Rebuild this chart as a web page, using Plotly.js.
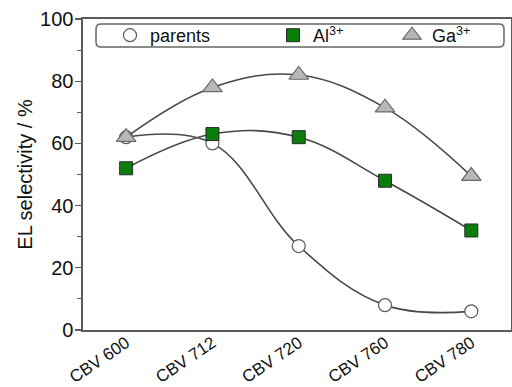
<!DOCTYPE html>
<html>
<head>
<meta charset="utf-8">
<script src="https://cdn.plot.ly/plotly-3.0.1.min.js"></script>
<style>html,body{margin:0;padding:0;background:#fff;}#chart{width:512px;height:387px;}</style>
</head>
<body>
<div id="chart"></div>
<script>
const categories = ["CBV 600", "CBV 712", "CBV 720", "CBV 760", "CBV 780"];
const parents = [62, 60, 27, 8, 6];
const al3 = [52, 63, 62, 48, 32];
const ga3 = [62, 78, 82, 71.5, 49.5];
const yTicks = [0, 20, 40, 60, 80, 100];

const idx = categories.map((c, i) => i);
const lineStyle = {color: '#484848', width: 1.6, shape: 'spline', smoothing: 1.1};

const series = [
  {y: parents, name: 'parents', legend: 'legend',
   marker: {symbol: 'circle', size: 13, color: '#ffffff', line: {color: '#5a5a5a', width: 1.2}}},
  {y: al3, name: 'Al<sup>3+</sup>', legend: 'legend2',
   marker: {symbol: 'square', size: 13, color: '#0b7d0b', line: {color: '#2a2a2a', width: 1}}},
  {y: ga3, name: 'Ga<sup>3+</sup>', legend: 'legend3',
   marker: {symbol: 'triangle-up', size: 17, color: '#b8b8b8', line: {color: '#6a6a6a', width: 1.2}}}
];

const traces = [];
series.forEach(s => {
  traces.push({x: idx, y: s.y, mode: 'lines', line: lineStyle, showlegend: false, hoverinfo: 'skip'});
  traces.push({x: idx, y: s.y, name: s.name, mode: 'markers', marker: s.marker, legend: s.legend});
});

const W = 512, H = 387, ml = 83, mt = 19, mb = 57, mr = 1;
const pw = W - ml - mr, ph = H - mt - mb;
function px(x) { return (x - ml) / pw; }
function py(y) { return (H - mb - y) / ph; }
const x0 = px(96), x1 = px(504), y0 = py(47), y1 = py(24);
const rx = 5 / pw, ry = 5 / ph;
const boxPath = `M ${x0+rx},${y1} L ${x1-rx},${y1} Q ${x1},${y1} ${x1},${y1-ry} L ${x1},${y0+ry} Q ${x1},${y0} ${x1-rx},${y0} L ${x0+rx},${y0} Q ${x0},${y0} ${x0},${y0+ry} L ${x0},${y1-ry} Q ${x0},${y1} ${x0+rx},${y1} Z`;

const legFont = {family: 'Liberation Sans, Arial, sans-serif', size: 18, color: '#111'};
function leg(xpix) {
  return {x: px(xpix), y: py(35.5), xanchor: 'left', yanchor: 'middle', orientation: 'h',
    bgcolor: 'rgba(0,0,0,0)', borderwidth: 0, font: legFont, itemwidth: 30};
}

const layout = {
  width: W, height: H,
  margin: {l: ml, r: mr, t: mt, b: mb},
  paper_bgcolor: '#fff', plot_bgcolor: '#fff',
  font: {family: 'Liberation Sans, Arial, sans-serif', size: 18, color: '#111'},
  showlegend: true,
  legend: leg(110),
  legend2: leg(273),
  legend3: leg(392),
  xaxis: {
    range: [-0.5, 4.46], tickmode: 'array', tickvals: idx, ticktext: categories,
    tickangle: -34, ticks: '', showgrid: false, zeroline: false,
    showline: true, linecolor: '#5a5a5a', linewidth: 1.6, mirror: true,
    tickfont: {size: 17}, ticklabelstandoff: -5
  },
  yaxis: {
    range: [0, 100], tickvals: yTicks, ticks: 'outside', ticklen: 6, tickwidth: 1.4, tickcolor: '#5a5a5a',
    minor: {ticks: 'outside', ticklen: 4, dtick: 10, tickwidth: 1.2, tickcolor: '#5a5a5a'},
    showgrid: false, zeroline: false, showline: true, linecolor: '#5a5a5a', linewidth: 1.6, mirror: true,
    tickfont: {size: 20}, ticklabelstandoff: -2,
    title: {text: 'EL selectivity / %', font: {size: 20}, standoff: 2}
  },
  shapes: [{type: 'path', xref: 'paper', yref: 'paper', path: boxPath,
    line: {color: '#666', width: 1.5}, fillcolor: 'rgba(0,0,0,0)'}]
};

Plotly.newPlot('chart', traces, layout, {displayModeBar: false, staticPlot: true});
</script>
</body>
</html>
